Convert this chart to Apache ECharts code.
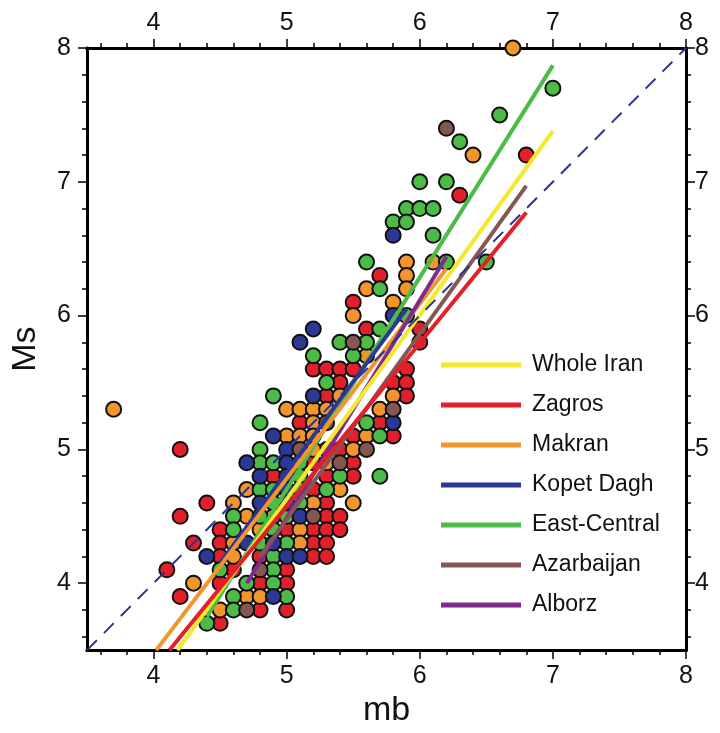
<!DOCTYPE html>
<html><head><meta charset="utf-8">
<script src="https://cdn.jsdelivr.net/npm/echarts@6/dist/echarts.min.js"></script>
<style>html,body{margin:0;padding:0;background:#fff}#c{width:720px;height:733px}</style>
</head><body><div id="c"></div>
<script>
// ---- data ----
const majorTicks = [4, 5, 6, 7, 8];
const minorTicks = [3.6, 3.8, 4.2, 4.4, 4.6, 4.8, 5.2, 5.4, 5.6, 5.8, 6.2, 6.4, 6.6, 6.8, 7.2, 7.4, 7.6, 7.8];

const zagrosPts = [[6.8,7.2],[6.3,6.9],[5.7,6.3],[5.5,6.1],[5.6,5.9],[6.0,5.9],[6.0,5.8],[5.2,5.6],[5.3,5.6],[5.4,5.6],[5.5,5.6],[5.9,5.6],[5.4,5.5],[5.8,5.5],[5.9,5.5],[5.3,5.4],[5.9,5.4],[5.1,5.2],[5.7,5.2],[5.5,5.1],[5.8,5.1],[4.2,5.0],[5.4,5.0],[5.3,5.0],[5.5,4.9],[5.2,4.9],[4.9,4.8],[5.3,4.8],[5.5,4.8],[5.2,4.7],[4.4,4.6],[5.3,4.6],[4.2,4.5],[5.3,4.5],[5.4,4.5],[5.0,4.4],[5.2,4.4],[5.3,4.4],[5.4,4.4],[4.5,4.4],[4.3,4.3],[4.5,4.3],[5.2,4.3],[5.3,4.3],[4.5,4.2],[5.2,4.2],[5.3,4.2],[4.8,4.2],[4.1,4.1],[4.6,4.1],[5.0,4.1],[4.5,4.0],[4.8,4.0],[5.0,4.0],[4.2,3.9],[4.8,3.8],[5.0,3.8],[4.5,3.7]];
const makranPts = [[6.7,8.0],[6.4,7.2],[5.9,6.4],[6.1,6.4],[5.9,6.3],[5.6,6.2],[5.9,6.2],[5.8,6.1],[5.5,6.0],[5.6,5.7],[5.4,5.4],[5.8,5.4],[3.7,5.3],[5.0,5.3],[5.1,5.3],[5.2,5.3],[5.3,5.3],[5.7,5.3],[5.2,5.2],[5.0,5.1],[5.1,5.1],[5.2,5.1],[5.6,5.1],[5.5,5.0],[5.2,5.0],[5.3,4.9],[4.7,4.7],[5.4,4.7],[4.6,4.6],[5.2,4.6],[5.5,4.6],[4.7,4.5],[4.9,4.5],[5.1,4.4],[4.8,4.4],[4.6,4.3],[5.1,4.3],[4.6,4.2],[4.3,4.0],[4.7,3.9],[4.8,3.9],[4.5,3.8]];
const eastCentralPts = [[7.0,7.7],[6.6,7.5],[6.3,7.3],[6.0,7.0],[6.2,7.0],[5.9,6.8],[6.0,6.8],[6.1,6.8],[5.8,6.7],[5.9,6.7],[6.1,6.6],[5.6,6.4],[6.2,6.4],[6.5,6.4],[5.7,6.2],[5.9,6.0],[5.7,5.9],[5.4,5.8],[5.6,5.8],[5.2,5.7],[5.5,5.7],[5.3,5.5],[4.9,5.4],[4.8,5.2],[5.6,5.2],[5.7,5.1],[4.8,5.0],[4.8,4.9],[4.9,4.9],[5.1,4.9],[5.4,4.8],[5.7,4.8],[5.1,4.8],[4.8,4.7],[4.9,4.7],[5.3,4.7],[5.1,4.7],[4.9,4.6],[5.1,4.6],[4.6,4.5],[4.8,4.5],[5.0,4.5],[4.6,4.4],[4.9,4.4],[4.8,4.3],[5.0,4.3],[4.9,4.2],[4.5,4.1],[4.9,4.1],[4.7,4.0],[4.9,4.0],[4.6,3.9],[5.0,3.9],[4.6,3.8],[4.4,3.7]];
const kopetDaghPts = [[5.8,6.6],[5.8,6.0],[5.2,5.9],[5.1,5.8],[5.2,5.4],[5.8,5.2],[4.9,5.1],[5.0,5.0],[4.7,4.9],[5.0,4.9],[4.8,4.8],[5.0,4.8],[5.0,4.7],[4.8,4.6],[5.0,4.6],[5.1,4.5],[4.7,4.3],[4.9,4.3],[4.4,4.2],[5.0,4.2],[5.1,4.2],[4.9,3.9]];
const azarbaijanPts = [[6.2,7.4],[5.5,5.8],[5.8,5.3],[5.3,5.2],[5.1,5.0],[5.6,5.0],[5.4,4.9],[5.2,4.5],[4.8,4.1],[4.7,3.8]];

const wholeIranLine = [[4.18,3.5],[7.0,7.38]];
const zagrosLine = [[4.12,3.5],[6.8,6.77]];
const makranLine = [[4.02,3.5],[6.2,6.35]];
const kopetDaghLine = [[4.5,4.15],[5.9,6.05]];
const eastCentralLine = [[4.4,3.75],[7.0,7.87]];
const azarbaijanLine = [[4.8,4.2],[6.8,6.97]];
const alborzLine = [[4.7,4.0],[6.2,6.44]];
const oneToOne = [[3.5,3.5],[8,8]];

const lineNames = ['Whole Iran','Zagros','Makran','Kopet Dagh','East-Central','Azarbaijan','Alborz'];
// ---- style ----
const FONT = 'Liberation Sans, Arial, sans-serif';
const C = {yellow:'#f4e92c', red:'#e3202a', orange:'#f2952d', blue:'#2b3896', green:'#4cbb48', brown:'#855752', purple:'#7e2b8e', dash:'#2b3496'};
const TICKFS = 25;

function makeAxis(pos, values, len, labels, margin, extra) {
  return Object.assign({
    type:'value', position:pos, min:3.5, max:8,
    splitLine:{show:false},
    axisLine:{show:true, onZero:false, lineStyle:{color:'#000', width:3}},
    axisTick:{show:true, inside:false, length:len, customValues:values, lineStyle:{color:'#000', width:1.5}},
    axisLabel:{show:labels, customValues:values, color:'#111', fontSize:TICKFS, fontFamily:FONT, margin:margin||8},
  }, extra||{});
}
const xAxes = [
  makeAxis('bottom',majorTicks,9,true,14,{name:'mb', nameLocation:'middle', nameGap:42, nameTextStyle:{fontSize:34, fontFamily:FONT, color:'#111'}}),
  makeAxis('bottom',minorTicks,5,false),
  makeAxis('top',majorTicks,9,true,12),
  makeAxis('top',minorTicks,5,false)
];
const yAxes = [
  makeAxis('left',majorTicks,9,true,16,{name:'Ms', nameLocation:'middle', nameGap:44, nameRotate:90, nameTextStyle:{fontSize:34, fontFamily:FONT, color:'#111'}}),
  makeAxis('left',minorTicks,5,false),
  makeAxis('right',majorTicks,9,true,9),
  makeAxis('right',minorTicks,5,false)
];

function pts(name, data, color) {
  return {type:'scatter', name:name+' pts', data:data, symbol:'circle', symbolSize:15, z:2,
    itemStyle:{color:color, borderColor:'#111', borderWidth:2, opacity:1}, emphasis:{disabled:true}};
}
function fit(name, data, color) {
  return {type:'line', name:name, data:data, symbol:'none', z:5, lineStyle:{color:color, width:4}, itemStyle:{color:color}, emphasis:{disabled:true}};
}
const series = [
  pts('Zagros', zagrosPts, C.red),
  pts('Makran', makranPts, C.orange),
  pts('East-Central', eastCentralPts, C.green),
  pts('Kopet Dagh', kopetDaghPts, C.blue),
  pts('Azarbaijan', azarbaijanPts, C.brown),
  fit('East-Central', eastCentralLine, C.green),
  fit('Kopet Dagh', kopetDaghLine, C.blue),
  fit('Makran', makranLine, C.orange),
  fit('Alborz', alborzLine, C.purple),
  fit('Whole Iran', wholeIranLine, C.yellow),
  fit('Azarbaijan', azarbaijanLine, C.brown),
  fit('Zagros', zagrosLine, C.red),
  {type:'line', name:'1:1', data:oneToOne, symbol:'none', z:6, lineStyle:{color:C.dash, width:2, type:[14,10]}, emphasis:{disabled:true}}
];

const chart = echarts.init(document.getElementById('c'), null, {renderer:'canvas'});
chart.setOption({
  animation:false,
  backgroundColor:'#fff',
  grid:{left:87, right:34, top:48, bottom:81},
  xAxis:xAxes, yAxis:yAxes,
  legend:{data:lineNames, orient:'vertical', left:441, top:353, padding:0, itemGap:16, itemWidth:80, itemHeight:5, icon:'rect',
    backgroundColor:'#fff', textStyle:{fontSize:23, lineHeight:24, fontFamily:FONT, color:'#111', padding:[0,0,0,6]}},
  series:series
});
</script></body></html>
